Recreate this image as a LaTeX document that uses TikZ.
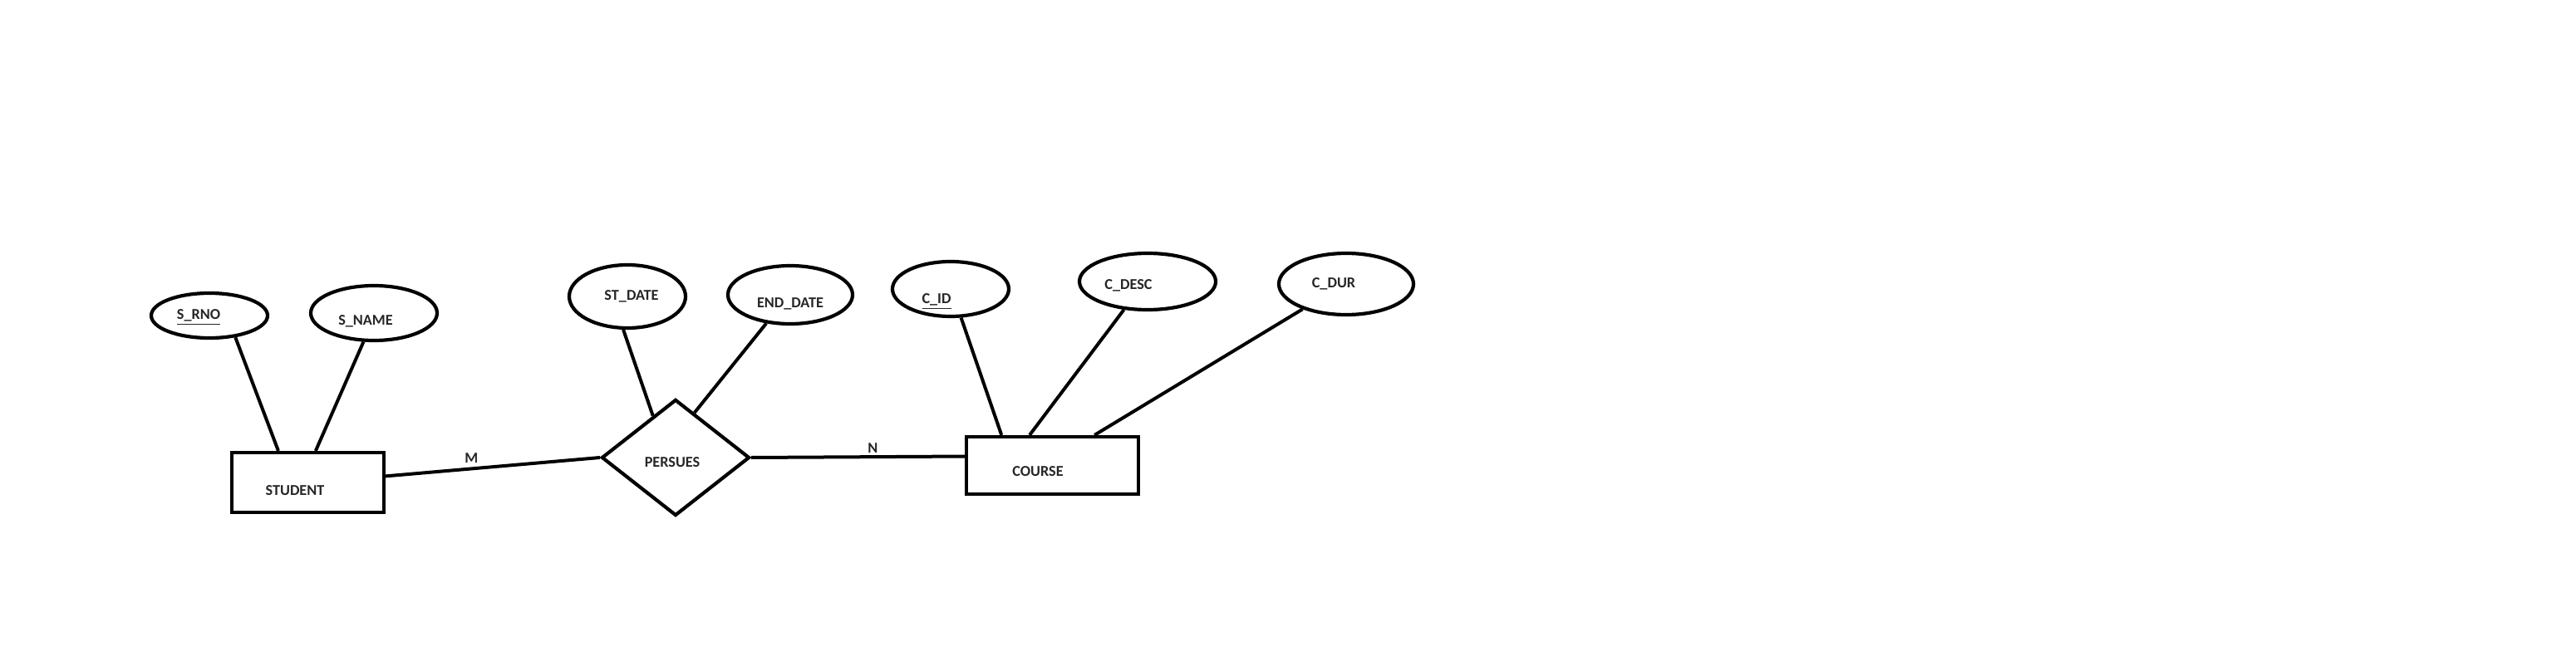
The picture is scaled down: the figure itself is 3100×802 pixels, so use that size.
\documentclass[tikz,border=0pt]{standalone}
\usepackage{fontspec}
\setmainfont{Carlito}
\usetikzlibrary{shapes.geometric,calc}
\tikzset{
	entity/.style = {draw, rectangle, line width=2.1pt, inner sep=0pt},
	relation/.style = {draw, diamond, line width=2.1pt, inner sep=0pt},
	attribute/.style = {draw, ellipse, line width=2.1pt, inner sep=0pt},
	link/.style = {line width=2pt}
}

\begin{document}
\begin{tikzpicture}[
x = 0.5pt,
y = -0.5pt,
every node/.style = {
	font = \fontsize{9.1}{11}\selectfont\bfseries,
	text = black!85,
}
]
\fill[white] (0,0) rectangle (3100,802);

\node[entity, minimum width=91.5pt, minimum height=36pt] (student) at (370.5,581) {};
\node (student-t) at (355,591) {STUDENT};
\node[relation, minimum width=89pt, minimum height=70pt] (persues) at (813,551) {};
\node (persues-t) at (809,557) {PERSUES};
\node[entity, minimum width=103.5pt, minimum height=34.5pt] (course) at (1266.5,560.5) {};
\node (course-t) at (1249,568) {COURSE};

\node[attribute, minimum width=70pt, minimum height=27pt] (srno) at (252,380) {};
\node (srno-t) at (239,382) {\underline{S\_RNO}};
\node[attribute, minimum width=76pt, minimum height=33pt] (sname) at (450,377) {};
\node (sname-t) at (440,387) {S\_NAME};
\node[attribute, minimum width=70pt, minimum height=38pt] (stdate) at (755,357) {};
\node (stdate-t) at (760,357) {ST\_DATE};
\node[attribute, minimum width=75pt, minimum height=35pt] (enddate) at (951,355) {};
\node (enddate-t) at (951,366) {END\_DATE};
\node[attribute, minimum width=70pt, minimum height=33pt] (cid) at (1144,348) {};
\node (cid-t) at (1127,363) {\underline{C\_ID}};
\node[attribute, minimum width=82pt, minimum height=34pt] (cdesc) at (1381,339) {};
\node (cdesc-t) at (1358,344) {C\_DESC};
\node[attribute, minimum width=81pt, minimum height=37pt] (cdur) at (1620,342) {};
\node (cdur-t) at (1605,342) {C\_DUR};

\draw[link] (srno.-40) -- ($(student.north west)!0.31!(student.north east)$);
\draw[link] (sname.-110) -- ($(student.north west)!0.55!(student.north east)$);
\draw[link] (stdate.-97) -- ($(persues.north)!0.3!(persues.west)$);
\draw[link] (enddate.-130) -- ($(persues.north)!0.25!(persues.east)$);
\draw[link] (cid.-70) -- ($(course.north west)!0.21!(course.north east)$);
\draw[link] (cdesc.-130) -- ($(course.north west)!0.37!(course.north east)$);
\draw[link] (cdur.-150) -- ($(course.north west)!0.74!(course.north east)$);

\draw[link] ($(student.north east)!0.4!(student.south east)$) -- node[pos=0.4, above=-1pt] (m) {M} (persues.west);
\draw[link] (persues.east) -- node[pos=0.57, above=-2pt] (n) {N} ($(course.north west)!0.35!(course.south west)$);

\end{tikzpicture}
\end{document}
